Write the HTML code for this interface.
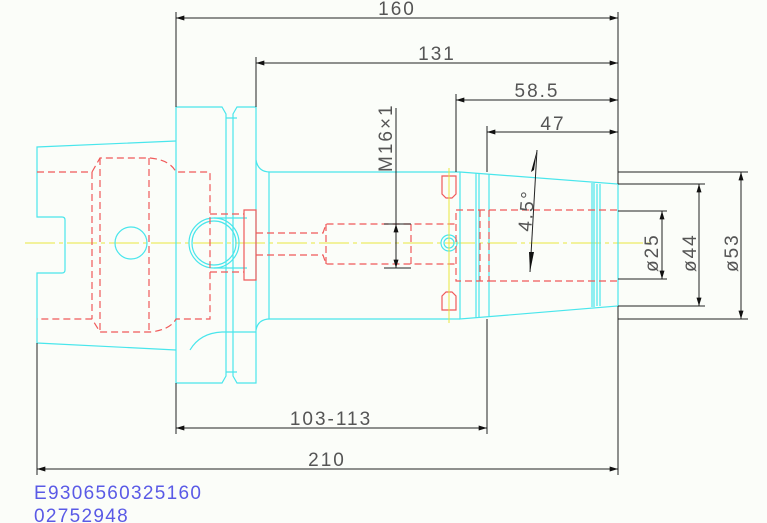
<!DOCTYPE html>
<html><head><style>
html,body{margin:0;padding:0;background:#fbfdf9;}
svg{display:block;}
text{font-family:"Liberation Sans",sans-serif;fill:#555;letter-spacing:2px;}
</style></head><body>
<svg width="767" height="523" viewBox="0 0 767 523" xmlns="http://www.w3.org/2000/svg">
<defs>
<marker id="a" viewBox="0 0 10 6" refX="10" refY="3" markerWidth="16" markerHeight="5" markerUnits="userSpaceOnUse" orient="auto-start-reverse"><path d="M0,0L10,3L0,6z" fill="#111"/></marker>
</defs>
<line x1="25" y1="243" x2="650" y2="243" stroke="#e8e840" stroke-width="1" stroke-dasharray="30,4,4,4"/>
<g fill="none" stroke="#49e6ec" stroke-width="1.2">
<path d="M176,141 L37,147 L37,217 L62,217 Q65,217 65,220 L65,270 Q65,273 62,273 L37,273 L37,343 L176,350"/>
<circle cx="131" cy="243" r="16"/>
<path d="M176,107 L222,107 L226,114 L226,376 L222,383 L176,383 Z"/>
<path d="M226,118 L237,118 M226,372 L237,372"/>
<path d="M237,107 L256,107 L256,383 L237,383 L233,376 L233,114 Z"/>
<circle cx="214" cy="243" r="25"/>
<circle cx="214" cy="243" r="22"/>
<path d="M214,218 L247,218 M214,268 L247,268"/>
<path d="M190,350 Q200,333 222,332 L256,332"/>
<path d="M256,160 Q258,172 270,172 L460,172 M256,330 Q258,319 270,319 L460,319 M269,172 L269,319"/>
<path d="M460,172 L618,184 L618,306 L460,319 Z"/>
<path d="M476,173 L476,318 M479,173 L479,318 M489,174 L489,317 M592,183 L592,307 M594,183 L594,307 M597,184 L597,306 M600,184 L600,306"/>
<circle cx="449" cy="243" r="8"/><circle cx="449" cy="243" r="5"/>
</g>
<g fill="none" stroke="#f05a5a" stroke-width="1.2" stroke-dasharray="7,4">
<path d="M37,172 L92,172 L100,158 L150,158 Q170,160 176,172 L210,172 L210,319 L176,319 Q170,330 150,332 L100,332 L92,319 L37,319"/>
<path d="M92,172 L92,319 M100,158 L100,332 M149,158 L149,332"/>
<path d="M210,214 L244,214 M210,272 L244,272"/>
<path d="M256,233 L323,233 L326,224 L456,224 M256,255 L323,255 L326,264 L456,264 M326,224 L326,264 M411,224 L411,264"/>
<path d="M456,210 L489,210 L489,281 L456,281 Z M480,210 L480,281"/>
<path d="M489,210 L618,210 M489,281 L618,281"/>
</g>
<g fill="none" stroke="#f05a5a" stroke-width="1.2">
<path d="M244,210 L256,210 L256,280 L244,280 Z M244,210 L244,280"/>
<path d="M442,176 L442,194 L446,198 L452,198 L456,194 L456,176 Z M442,310 L442,296 L446,292 L452,292 L456,296 L456,310 Z"/>
</g>
<line x1="449" y1="168" x2="449" y2="323" stroke="#e8e840" stroke-width="1"/>
<g stroke="#222" stroke-width="1" fill="none">
<path d="M176,12 L176,107 M618,12 L618,184 M256,57 L256,107 M456,94 L456,172 M487,126 L487,172 M176,383 L176,434 M487,319 L487,434 M37,343 L37,475 M618,306 L618,475"/>
<path d="M618,172 L748,172 M618,184 L705,184 M618,211 L667,211 M618,279 L667,279 M618,306 L705,306 M618,319 L748,319"/>
<path d="M396,108 L396,224 M384,224 L411,224 M384,268 L411,268"/>
</g>
<g stroke="#222" stroke-width="1" fill="none" marker-start="url(#a)" marker-end="url(#a)">
<line x1="176" y1="18" x2="618" y2="18"/>
<line x1="256" y1="63" x2="618" y2="63"/>
<line x1="456" y1="100" x2="618" y2="100"/>
<line x1="487" y1="132" x2="618" y2="132"/>
<line x1="176" y1="428" x2="487" y2="428"/>
<line x1="37" y1="469" x2="618" y2="469"/>
<line x1="662" y1="211" x2="662" y2="279"/>
<line x1="699" y1="184" x2="699" y2="306"/>
<line x1="741" y1="172" x2="741" y2="319"/>
<line x1="396" y1="224" x2="396" y2="268"/>
</g>
<line x1="537" y1="150" x2="530" y2="272" stroke="#222"/>
<path d="M534,170 L537,150 L531,172" fill="#111" stroke="none"/>
<path d="M529,252 L530,272 L534,252" fill="#111" stroke="none"/>
<g font-size="19">
<text x="397" y="15" text-anchor="middle">160</text>
<text x="437" y="60" text-anchor="middle">131</text>
<text x="537" y="97" text-anchor="middle">58.5</text>
<text x="553" y="130" text-anchor="middle">47</text>
<text x="331" y="425" text-anchor="middle">103-113</text>
<text x="327" y="466" text-anchor="middle">210</text>
<text transform="translate(392,172) rotate(-90)">M16×1</text>
<text transform="translate(531,232) rotate(-85)">4.5°</text>
<text transform="translate(658,272) rotate(-90)">ø25</text>
<text transform="translate(696,272) rotate(-90)">ø44</text>
<text transform="translate(738,272) rotate(-90)">ø53</text>
</g>
<g font-size="19">
<text x="34" y="499" style="fill:#5a5ae6;letter-spacing:1.3px">E9306560325160</text>
<text x="34" y="522" style="fill:#5a5ae6;letter-spacing:1.3px">02752948</text>
</g>
</svg>
</body></html>
